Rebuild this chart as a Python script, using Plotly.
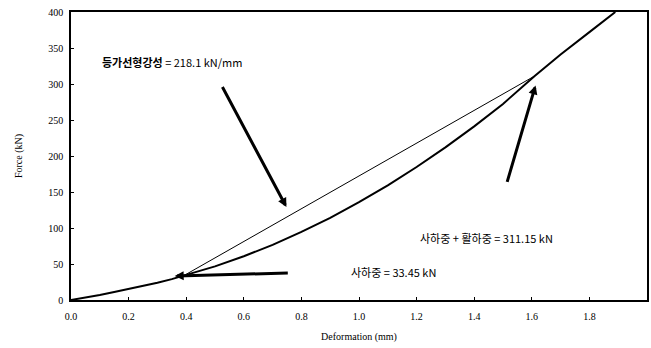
import plotly.graph_objects as go

# Load-deformation curve
deform = [0.0, 0.05, 0.1, 0.15, 0.2, 0.25, 0.3, 0.35, 0.39, 0.5, 0.6, 0.7, 0.8,
          0.9, 1.0, 1.1, 1.2, 1.3, 1.4, 1.5, 1.61, 1.7, 1.8, 1.89]
force = [0, 3, 7, 11, 15, 19.5, 24, 29, 33.45, 46.7, 60.7, 76.6, 94.5,
         114.2, 135.8, 159.3, 184.7, 212.0, 241.2, 272.3, 311.15, 341, 372, 400]

# Secant stiffness line between the two load levels
secant_x = [0.39, 1.61]
secant_y = [33.45, 311.15]

x_ticks = [0.0, 0.2, 0.4, 0.6, 0.8, 1.0, 1.2, 1.4, 1.6, 1.8, 2.0]
y_ticks = [0, 50, 100, 150, 200, 250, 300, 350, 400]

fig = go.Figure()
fig.add_trace(go.Scatter(x=deform, y=force, mode="lines",
                         line=dict(color="black", width=2), showlegend=False))
fig.add_trace(go.Scatter(x=secant_x, y=secant_y, mode="lines",
                         line=dict(color="black", width=1), showlegend=False))

kfont = dict(family="Noto Sans CJK KR", size=11, color="black")

fig.add_annotation(x=0.00, y=331, xref="x", yref="y", showarrow=False, xanchor="left",
                   text="<b>등가선형강성</b> = 218.1 kN/mm", font=kfont, xshift=29)
fig.add_annotation(x=1.443, y=86, xref="x", yref="y", showarrow=False,
                   text="사하중 + 활하중 = 311.15 kN", font=kfont)
fig.add_annotation(x=1.12, y=39, xref="x", yref="y", showarrow=False,
                   text="사하중 = 33.45 kN", font=kfont)

# arrows
fig.add_annotation(x=0.748, y=129, ax=0.523, ay=298, xref="x", yref="y",
                   axref="x", ayref="y", showarrow=True, arrowhead=2,
                   arrowsize=0.6, arrowwidth=3, arrowcolor="black", text="")
fig.add_annotation(x=1.613, y=298, ax=1.513, ay=162, xref="x", yref="y",
                   axref="x", ayref="y", showarrow=True, arrowhead=2,
                   arrowsize=0.6, arrowwidth=3, arrowcolor="black", text="")
fig.add_annotation(x=0.36, y=33.4, ax=0.758, ay=37.5, xref="x", yref="y",
                   axref="x", ayref="y", showarrow=True, arrowhead=2,
                   arrowsize=0.6, arrowwidth=3, arrowcolor="black", text="")

axfont = dict(family="Liberation Serif", size=10, color="black")
fig.update_xaxes(range=[0, 2.0], tickvals=x_ticks, tickformat=".1f",
                 ticks="inside", ticklen=3, tickcolor="black",
                 showline=True, linecolor="black", linewidth=1.5, mirror=True,
                 showgrid=False, zeroline=False, tickfont=axfont,
                 ticklabelstandoff=6,
                 title=dict(text="Deformation (mm)", font=axfont, standoff=12))
fig.update_yaxes(range=[0, 400], tickvals=y_ticks,
                 ticks="inside", ticklen=3, tickcolor="black",
                 showline=True, linecolor="black", linewidth=1.5, mirror=True,
                 showgrid=False, zeroline=False, tickfont=axfont,
                 ticklabelstandoff=4,
                 title=dict(text="Force (kN)", font=axfont, standoff=24))
fig.update_layout(width=651, height=348, margin=dict(l=71, r=2, t=12, b=48),
                  plot_bgcolor="white", paper_bgcolor="white")
fig.write_html("out.html")
